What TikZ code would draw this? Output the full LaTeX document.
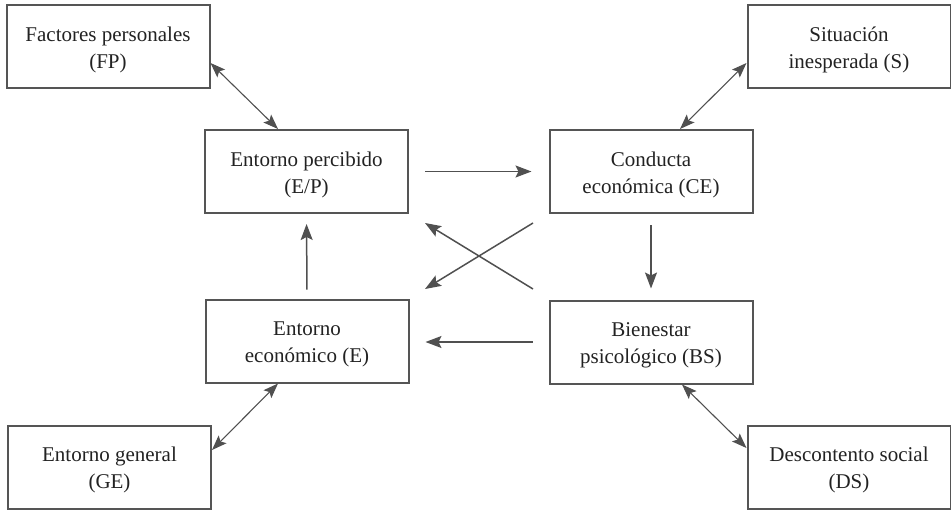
\documentclass[tikz,border=0pt]{standalone}
\usepackage{fontspec}
\setmainfont{Liberation Serif}
\usetikzlibrary{arrows.meta}
\definecolor{boxc}{HTML}{555555}
\definecolor{txtc}{HTML}{222222}
\definecolor{arrc}{HTML}{505050}
\begin{document}
\begin{tikzpicture}[x=1pt,y=-1pt,
  box/.style={draw=boxc,line width=2pt,minimum width=203pt,minimum height=83pt,
    align=center,text=txtc,inner sep=0pt,text height=48pt,text depth=5pt,
    font=\fontsize{21}{27}\selectfont},
  arr/.style={draw=arrc,line width=1.5pt,-{Stealth[length=16pt,width=12pt,inset=3pt]}},
  dbl/.style={draw=arrc,line width=1.1pt,{Stealth[length=15pt,width=11pt,inset=3pt]}-{Stealth[length=15pt,width=11pt,inset=3pt]}}]
\useasboundingbox (0,0) rectangle (951,509);
\node[box] (fp) at (108,46.5) {Factores personales\\(FP)};
\node[box] (s)  at (849,46.5) {Situación\\inesperada (S)};
\node[box] (ep) at (306.5,171.5) {Entorno percibido\\(E/P)};
\node[box] (ce) at (651,171.5) {Conducta\\económica (CE)};
\node[box] (e)  at (307,341) {Entorno\\económico (E)};
\node[box] (bs) at (651,342) {Bienestar\\psicológico (BS)};
\node[box] (ge) at (109.5,467) {Entorno general\\(GE)};
\node[box] (ds) at (849,467) {Descontento social\\(DS)};
% main arrows
\draw[arr,shorten <=16pt,shorten >=17pt] (ep.east) -- (ce.west);
\draw[arr,shorten <=11pt,shorten >=11pt] (ce.south) -- (bs.north);
\draw[arr,shorten <=16pt,shorten >=16pt] (bs.west) -- (bs.west -| e.east);
\draw[arr,shorten <=9pt,shorten >=10pt] (e.north) -- (ep.south);
% crossing arrows
\coordinate (c1) at (533,223);
\coordinate (c2) at (425,289);
\coordinate (c3) at (533,289);
\coordinate (c4) at (425,223);
\draw[arr] (c1) -- (c2);
\draw[arr] (c3) -- (c4);
% double arrows
\draw[dbl] ([yshift=-16.5pt]fp.east) -- ([xshift=-28.5pt]ep.north);
\draw[dbl] ([yshift=-16.5pt]s.west) -- ([xshift=29pt]ce.north);
\draw[dbl] ([yshift=17pt]ge.east) -- ([xshift=-29pt]e.south);
\draw[dbl] ([xshift=31pt]bs.south) -- ([yshift=19pt]ds.west);
\end{tikzpicture}
\end{document}
